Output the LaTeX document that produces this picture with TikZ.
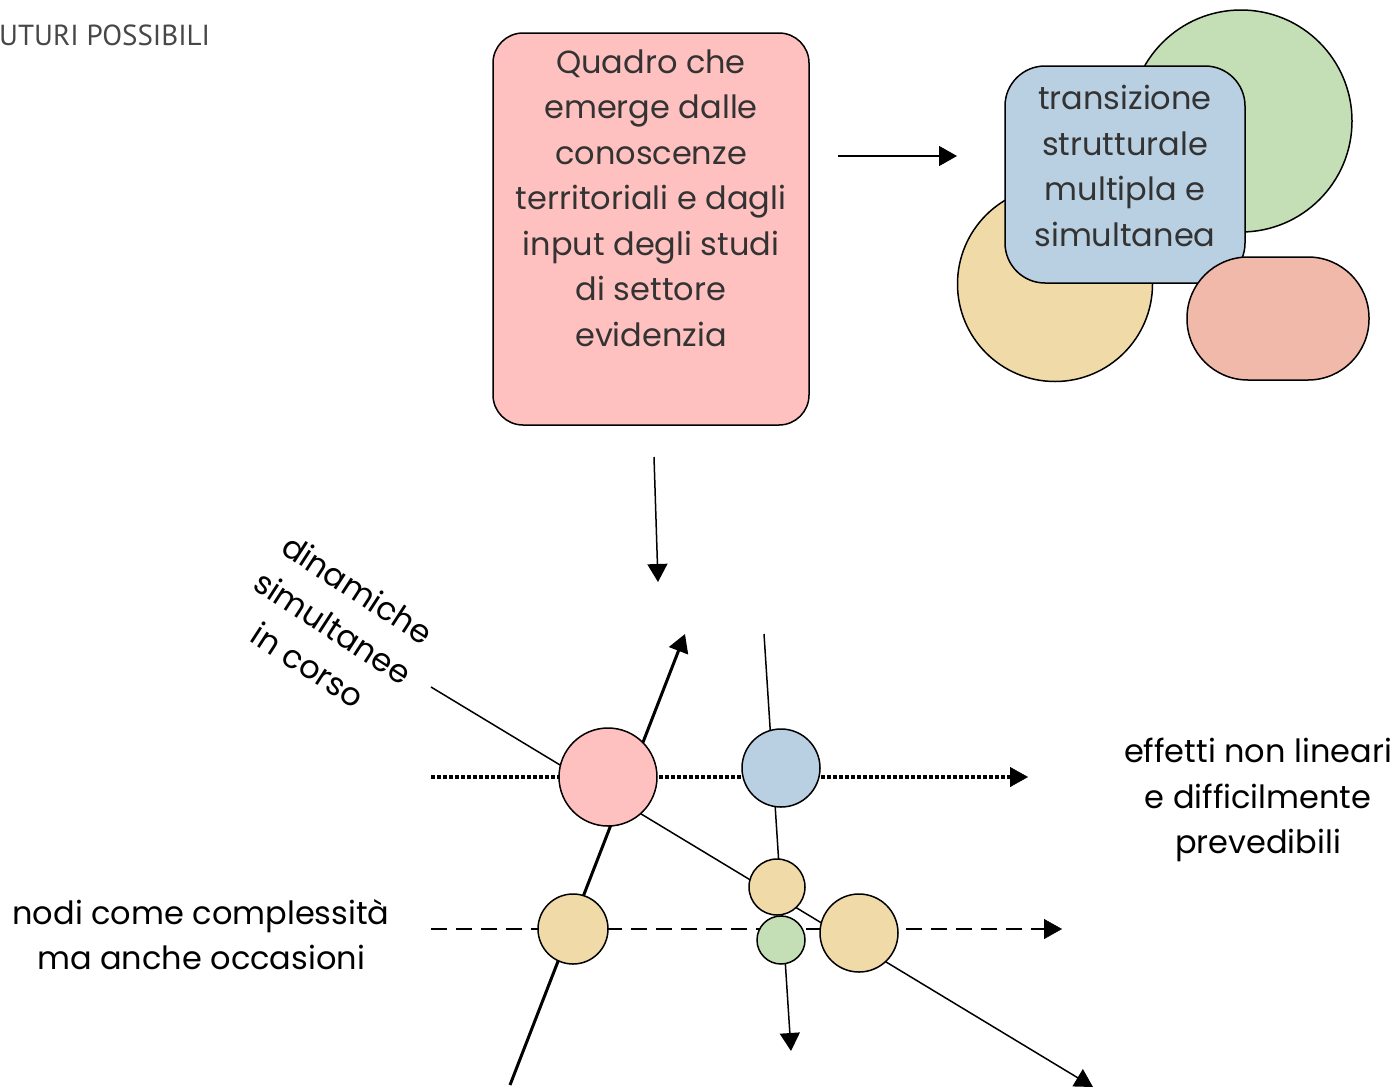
\documentclass[tikz,border=0pt]{standalone}
\usepackage{fontspec}
\setmainfont{Poppins}
\newfontfamily\titlefont{PT Sans}
\usetikzlibrary{arrows.meta}

\definecolor{pinkfill}{HTML}{FFC0C0}
\definecolor{bluefill}{HTML}{B9CFE2}
\definecolor{greenfill}{HTML}{C4DFB5}
\definecolor{yellowfill}{HTML}{F0DBA8}
\definecolor{salmonfill}{HTML}{F0B9A9}
\definecolor{textgray}{HTML}{333333}

\tikzset{
  txt/.style={align=center, font=\fontsize{32}{45.5}\selectfont, inner sep=0pt},
  panel/.style={draw, line width=1.5pt, rectangle, inner sep=0pt},
  dot/.style={draw, line width=1.5pt, circle, inner sep=0pt},
  tip/.style={-{Triangle[length=18pt,width=20pt]}},
}

\begin{document}
\begin{tikzpicture}[x=1pt, y=-1pt]
\useasboundingbox (0,0) rectangle (1399,1087);

\node (title) [anchor=base west, inner sep=0pt, text=textgray!90, font=\titlefont\fontsize{29}{30}\selectfont] at (-1,45) {UTURI POSSIBILI};

% top left box
\node (box1) [panel, fill=pinkfill, rounded corners=30pt, minimum width=316pt, minimum height=392pt] at (651,229) {};
\node (box1txt) [txt, text=textgray] at (651,198) {Quadro che\\emerge dalle\\conoscenze\\territoriali e dagli\\input degli studi\\di settore\\evidenzia};

% cluster on the right
\node (green1) [dot, fill=greenfill, minimum size=222pt] at (1241,121) {};
\node (yellow1) [dot, fill=yellowfill, minimum size=195pt] at (1055,284) {};
\node (box2) [panel, fill=bluefill, rounded corners=40pt, minimum width=240pt, minimum height=217pt] at (1125,174.5) {};
\node (box2txt) [txt, text=textgray] at (1125,166) {transizione\\strutturale\\multipla e\\simultanea};
\node (pill) [panel, fill=salmonfill, rounded corners=61pt, minimum width=182pt, minimum height=123pt] at (1278,318.5) {};

% Arrows
\coordinate (a1s) at (838,156);
\coordinate (a1e) at (957,156);
\coordinate (a2s) at (654,457);
\coordinate (a2e) at (658,582);
\draw[tip, line width=1.5pt] (a1s) -- (a1e);
\draw[tip, line width=1.5pt] (a2s) -- (a2e);

% lower diagram
\coordinate (thick1) at (510,1085);
\coordinate (thick2) at (685,634);
\coordinate (diag1) at (431,687);
\coordinate (diag2) at (1093,1087);
\coordinate (vert1) at (764,634);
\coordinate (vert2) at (791,1051);
\coordinate (dots1) at (431,777);
\coordinate (dots2) at (1028,777);
\coordinate (dash1) at (431,929);
\coordinate (dash2) at (1062,929);

\draw[tip, line width=3pt] (thick1) -- (thick2);
\draw[tip, line width=1.5pt] (diag1) -- (diag2);
\draw[tip, line width=1.5pt] (vert1) -- (vert2);
\draw[line width=3.5pt, dash pattern=on 3.5pt off 2.5pt] (dots1) -- ([xshift=-18pt]dots2);
\draw[tip] ([xshift=-19pt]dots2) -- (dots2);
\draw[line width=2pt, dash pattern=on 16pt off 9pt] (dash1) -- ([xshift=-18pt]dash2);
\draw[tip] ([xshift=-19pt]dash2) -- (dash2);

\node (c1) [dot, fill=pinkfill, minimum size=98pt] at (608,777) {};
\node (c2) [dot, fill=bluefill, minimum size=78pt] at (781,768) {};
\node (c3) [dot, fill=yellowfill, minimum size=56pt] at (777,887) {};
\node (c4) [dot, fill=greenfill, minimum size=48pt] at (781,940) {};
\node (c5) [dot, fill=yellowfill, minimum size=70pt] at (573,929) {};
\node (c6) [dot, fill=yellowfill, minimum size=78pt] at (859,933) {};

% labels
\node (lab1) [txt, rotate=-33] at (333,627) {dinamiche\\simultanee\\in corso};
\node (lab2) [txt] at (1258,800) {effetti non lineari\\e difficilmente\\prevedibili};
\node (lab3) [txt] at (201,934.5) {nodi come complessità\\ma anche occasioni};
\end{tikzpicture}
\end{document}
